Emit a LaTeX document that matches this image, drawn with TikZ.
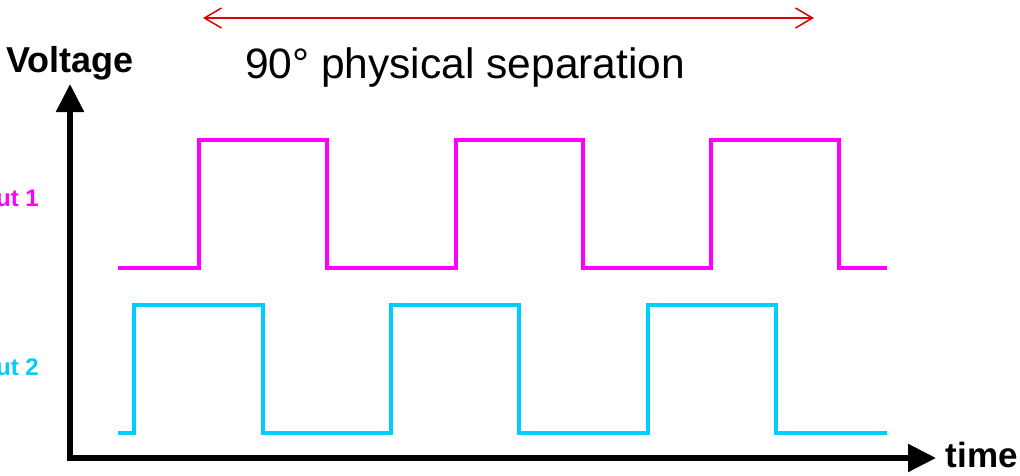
\documentclass[tikz,border=0pt]{standalone}
\usepackage{fontspec}
\setmainfont{Liberation Sans}
\usetikzlibrary{arrows.meta}
\definecolor{wmag}{HTML}{FF00FF}
\definecolor{wcyan}{HTML}{00CCFF}
\definecolor{wred}{HTML}{DD0000}
\begin{document}
\begin{tikzpicture}[x=1pt,y=-1pt,
  axis/.style={line width=5.5pt,-{Triangle[length=28pt,width=27pt]}},
  wave/.style={line width=3.2pt,line join=miter},
  lbl/.style={inner sep=0pt,font=\bfseries\fontsize{36}{40}\selectfont},
  chan/.style={inner sep=0pt,font=\bfseries\fontsize{24}{28}\selectfont}]
\useasboundingbox (0,0) rectangle (1020,475);
% axes
\coordinate (origin) at (70,458);
\coordinate (ytip) at (70,84);
\coordinate (xtip) at (936,458);
\draw[axis] ([yshift=2.75pt]origin) -- (ytip);
\draw[axis] ([xshift=-2.75pt]origin) -- (xtip);
% labels
\node[lbl,anchor=base west] (vlab) at (6,72) {Voltage};
\node[lbl,anchor=base east,font=\bfseries\fontsize{35}{40}\selectfont] (tlab) at (1018,467) {time};
\node[chan,anchor=base east,text=wmag] (o1) at (39,206) {ut 1};
\node[chan,anchor=base east,text=wcyan] (o2) at (39,375) {ut 2};
\node[inner sep=0pt,anchor=base west,font=\fontsize{42.5}{48}\selectfont] (sep) at (245,78) {90° physical separation};
% separation arrow
\coordinate (sa) at (203,18);
\coordinate (sb) at (814,18);
\draw[wred,line width=1.5pt,{Straight Barb[length=17pt,width=20pt]}-{Straight Barb[length=17pt,width=20pt]}] (sa) -- (sb);
% output 1 waveform
\draw[wave,wmag] (118,268) -- (199,268) -- (199,140) -- (327,140) -- (327,268) -- (456,268) -- (456,140) -- (583,140) -- (583,268) -- (711,268) -- (711,140) -- (839,140) -- (839,268) -- (887,268);
% output 2 waveform
\draw[wave,wcyan] (118,433) -- (134,433) -- (134,305) -- (263,305) -- (263,433) -- (391,433) -- (391,305) -- (519,305) -- (519,433) -- (648,433) -- (648,305) -- (776,305) -- (776,433) -- (887,433);
\end{tikzpicture}
\end{document}
